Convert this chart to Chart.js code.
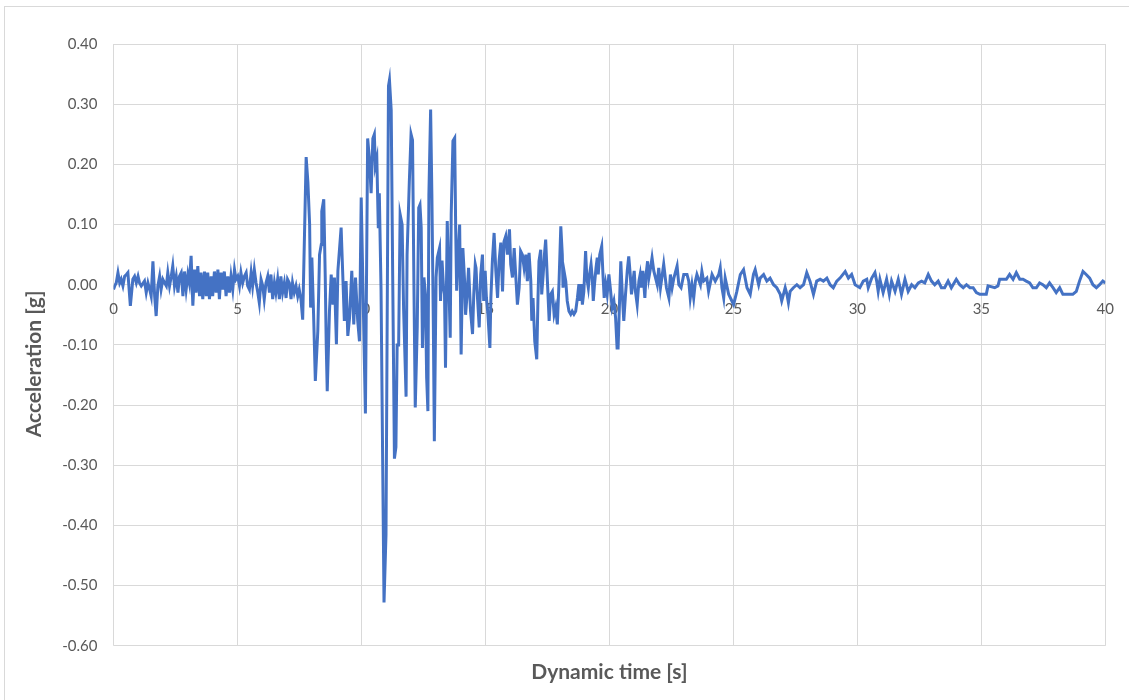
<!DOCTYPE html>
<html>
<head>
<meta charset="utf-8">
<script src="https://cdn.jsdelivr.net/npm/chart.js@4"></script>
<style>
  html, body { margin: 0; padding: 0; background: #ffffff; }
  #wrap { width: 1129px; height: 700px; position: relative; }
</style>
</head>
<body>
<div id="wrap"><canvas id="c" width="1129" height="700"></canvas></div>
<script>
// ---- Data ----
const xAxisTitle = "Dynamic time [s]";
const yAxisTitle = "Acceleration [g]";
const xTickValues = [0, 5, 10, 15, 20, 25, 30, 35, 40];
const yTickValues = [-0.6, -0.5, -0.4, -0.3, -0.2, -0.1, 0, 0.1, 0.2, 0.3, 0.4];

const timeSec = [
  0, 0.05, 0.11, 0.18, 0.25, 0.31, 0.38, 0.45, 0.52, 0.58, 0.68, 0.78, 0.85, 0.92, 0.99, 1.05, 1.12, 1.25, 1.32, 1.39,
  1.46, 1.52, 1.59, 1.66, 1.72, 1.79, 1.86, 1.92, 1.99, 2.06, 2.13, 2.19, 2.26, 2.33, 2.39, 2.46, 2.53, 2.60, 2.66, 2.73,
  2.80, 2.86, 2.93, 3.00, 3.06, 3.13, 3.20, 3.27, 3.33, 3.40, 3.47, 3.53, 3.60, 3.67, 3.74, 3.80, 3.87, 3.94, 4.00, 4.07,
  4.14, 4.21, 4.27, 4.34, 4.41, 4.47, 4.54, 4.61, 4.68, 4.74, 4.81, 4.88, 4.94, 5.01, 5.08, 5.14, 5.21, 5.28, 5.35, 5.41,
  5.48, 5.55, 5.61, 5.68, 5.75, 5.82, 5.88, 5.95, 6.02, 6.08, 6.15, 6.22, 6.29, 6.35, 6.42, 6.49, 6.55, 6.62, 6.69, 6.75,
  6.82, 6.89, 6.96, 7.02, 7.09, 7.16, 7.22, 7.29, 7.36, 7.43, 7.49, 7.56, 7.63,
  7.77, 7.84, 7.91, 7.95, 8.00, 8.07, 8.14, 8.24, 8.31, 8.38, 8.40, 8.48, 8.54, 8.58, 8.62, 8.71, 8.78, 8.85, 8.91, 8.99,
  9.05, 9.18, 9.25, 9.31, 9.38, 9.45, 9.52, 9.61, 9.69, 9.76, 9.85, 9.92, 9.99,
  10.16, 10.25, 10.32, 10.39, 10.46, 10.52, 10.56, 10.62, 10.68, 10.72, 10.79, 10.91, 10.99, 11.09, 11.13, 11.20, 11.26,
  11.33, 11.39, 11.44, 11.50, 11.56, 11.64, 11.70, 11.80, 11.84, 11.93, 12.00, 12.06,
  12.12, 12.17, 12.25, 12.31, 12.36, 12.41, 12.46, 12.52, 12.58, 12.63, 12.68, 12.72, 12.79, 12.84, 12.90, 12.94, 13.01,
  13.06, 13.15, 13.19, 13.25, 13.31, 13.35, 13.39, 13.46, 13.53, 13.58, 13.62, 13.69, 13.76, 13.80, 13.84, 13.89, 13.96,
  14.02, 14.09, 14.16, 14.20, 14.26, 14.32, 14.40, 14.48, 14.53, 14.59,
  14.62, 14.68, 14.75, 14.81, 14.88, 14.93, 14.99, 15.04, 15.10, 15.18, 15.22, 15.28, 15.35, 15.42, 15.49, 15.55, 15.62,
  15.69, 15.75, 15.82, 15.89, 15.97, 16.02, 16.09, 16.16, 16.22, 16.29, 16.36, 16.42, 16.49, 16.56, 16.63, 16.69, 16.76,
  16.83, 16.87, 16.92, 16.99, 17.07, 17.12, 17.16, 17.23, 17.27, 17.33, 17.38, 17.43, 17.50, 17.57, 17.63, 17.70, 17.77,
  17.83, 17.90, 17.97, 18.04, 18.10,
  18.13, 18.17, 18.24, 18.30, 18.37, 18.44, 18.50, 18.57, 18.64, 18.71, 18.77, 18.81, 18.87, 18.91, 18.97, 19.04, 19.09,
  19.15, 19.20, 19.26, 19.31, 19.35, 19.40, 19.46, 19.51, 19.55, 19.61, 19.69, 19.74, 19.79, 19.85, 19.91, 19.98, 20.05,
  20.11, 20.18, 20.25, 20.31, 20.35, 20.41, 20.46, 20.52, 20.58, 20.65, 20.72, 20.78, 20.84, 20.89, 20.94, 21.00, 21.05,
  21.12, 21.19, 21.24, 21.29, 21.35, 21.43, 21.48, 21.54, 21.59, 21.66, 21.72, 21.79,
  21.93, 21.99, 22.06, 22.19, 22.30, 22.40, 22.46, 22.53, 22.60, 22.73, 22.80, 22.89, 23.00, 23.13, 23.20, 23.26, 23.33,
  23.40, 23.47, 23.53, 23.67, 23.73, 23.80, 23.93, 24.00, 24.14, 24.27, 24.41, 24.47, 24.54, 24.61, 24.67, 24.81, 24.94,
  25.01, 25.14, 25.28, 25.41, 25.55, 25.68, 25.81, 25.88, 26.02, 26.08, 26.22, 26.35, 26.48, 26.62, 26.75, 26.89, 26.95,
  27.09, 27.16, 27.22, 27.29, 27.42, 27.56, 27.69, 27.83, 27.96, 28.09, 28.23, 28.36, 28.50, 28.63, 28.77, 28.90, 29.03,
  29.17, 29.30, 29.51, 29.64, 29.77, 29.91,
  30.10, 30.24, 30.38, 30.44, 30.58, 30.71, 30.78, 30.84, 30.91, 31.04, 31.18, 31.29, 31.38, 31.52, 31.65, 31.78, 31.92,
  32.05, 32.19, 32.32, 32.46, 32.59, 32.72, 32.86, 32.99, 33.12, 33.26, 33.39, 33.52, 33.66, 33.79, 33.99, 34.13, 34.27,
  34.40, 34.54, 34.67, 34.80, 34.94, 35.20, 35.27, 35.54, 35.67, 35.74, 36.01, 36.14, 36.28, 36.41, 36.55, 36.68, 36.81,
  36.95, 37.08, 37.22, 37.35, 37.48, 37.62, 37.75, 37.89, 38.02, 38.16, 38.29, 38.69, 38.83, 38.96, 39.10, 39.23, 39.37,
  39.50, 39.64, 39.77, 39.90, 40.00
];

const accelG = [
  -0.008, -0.002, 0.003, 0.020, 0.003, 0.009, -0.002, 0.014, 0.017, 0.020, -0.035, 0.009, 0.014, 0.003, 0.014, 0.003, -0.002, 0.006, -0.013, 0.003,
  -0.008, -0.019, 0.039, -0.019, -0.052, -0.002, 0.014, -0.008, 0.009, 0.003, -0.002, 0.020, -0.002, 0.014, 0.031, -0.002, 0.014, -0.013, 0.014, 0.020,
  -0.019, 0.022, -0.008, 0.017, 0.003, 0.048, -0.035, 0.025, -0.013, 0.031, -0.019, 0.020, -0.024, 0.022, -0.019, 0.020, -0.024, 0.014, -0.019, 0.022,
  -0.013, 0.025, -0.024, 0.020, -0.008, 0.022, -0.019, 0.014, -0.013, 0.014, -0.008, 0.025, 0.009, 0.014, -0.002, 0.020, 0.003, 0.014, 0.020, -0.002,
  -0.008, 0.020, -0.002, 0.025, 0.003, -0.013, -0.030, 0.009, -0.002, -0.024, 0.003, 0.014, -0.013, 0.017, -0.024, 0.003, -0.013, 0.009, -0.024, 0.014,
  -0.013, 0.003, -0.022, 0.009, 0.003, -0.024, 0.003, -0.013, -0.002, -0.019, -0.008, -0.024, -0.058,
  0.212, 0.170, 0.100, -0.038, 0.045, -0.050, -0.160, -0.077, 0.050, 0.067, 0.122, 0.142, 0.012, -0.100, -0.177, -0.044, 0.017, -0.033, 0.012, -0.099,
  0.023, 0.095, 0.012, -0.060, 0.006, -0.085, -0.055, 0.023, -0.066, 0.012, -0.060, -0.094, 0.145,
  -0.214, 0.243, 0.210, 0.152, 0.243, 0.250, 0.198, 0.210, 0.094, 0.152, -0.008, -0.528, -0.415, 0.330, 0.340, 0.290, 0.015,
  -0.289, -0.270, -0.100, -0.100, 0.117, 0.100, -0.040, -0.186, 0.050, 0.170, 0.250, 0.240,
  -0.016, -0.204, -0.070, 0.128, 0.133, 0.095, -0.105, 0.012, -0.016, -0.155, -0.210, 0.150, 0.291, 0.150, -0.070, -0.260, 0.012,
  0.045, 0.061, -0.027, 0.040, -0.005, -0.016, -0.138, 0.106, -0.005, -0.088, 0.117, 0.239, 0.244, 0.095, -0.010, 0.040, 0.100,
  -0.116, 0.061, 0.006, -0.050, -0.016, 0.028, -0.044, -0.082, -0.016, 0.034,
  0.028, -0.022, -0.071, 0.017, 0.050, -0.027, 0.023, -0.022, -0.049, -0.105, -0.022, 0.039, 0.086, 0.023, -0.022, 0.039, 0.070,
  -0.011, 0.072, 0.081, 0.050, 0.092, 0.034, 0.012, 0.061, 0.017, -0.033, -0.005, 0.056, 0.050, 0.028, 0.050, 0.006, 0.053,
  0.006, -0.060, -0.022, -0.094, -0.124, -0.022, 0.039, 0.058, -0.016, 0.017, 0.050, 0.075, 0.006, -0.060, -0.016, -0.011, -0.049,
  -0.038, -0.066, 0.006, 0.097, 0.050,
  -0.005, 0.023, 0.006, -0.027, -0.044, -0.049, -0.044, -0.049, -0.044, -0.022, 0.001, -0.027, 0.001, -0.033, -0.011, 0.056, 0.011,
  -0.005, 0.017, 0.034, 0.011, -0.027, 0.001, 0.028, 0.045, 0.017, 0.050, 0.064, 0.017, -0.022, 0.001, -0.016, 0.017, -0.011,
  -0.038, -0.027, -0.055, -0.105, -0.105, -0.027, 0.039, -0.016, -0.060, -0.016, 0.023, 0.047, 0.017, -0.016, 0.001, 0.023, -0.011,
  -0.033, 0.006, 0.017, -0.005, 0.023, -0.022, 0.017, 0.039, 0.011, 0.028, 0.045, 0.023,
  0.000, 0.028, -0.005, 0.034, -0.005, -0.022, 0.017, -0.005, 0.011, 0.031, 0.000, -0.005, 0.017, 0.017, 0.006, -0.022, 0.000,
  -0.022, 0.006, 0.017, 0.000, 0.022, 0.006, 0.011, -0.011, 0.017, 0.006, 0.017, 0.028, -0.005, -0.022, 0.011, -0.016, -0.027,
  -0.033, -0.011, 0.017, 0.025, -0.005, -0.016, 0.017, 0.025, 0.000, 0.011, 0.017, 0.006, 0.011, 0.000, -0.005, -0.016, -0.027,
  -0.005, -0.016, -0.030, -0.011, -0.005, 0.000, -0.005, 0.000, 0.020, 0.006, -0.016, 0.006, 0.009, 0.006, 0.011, 0.000, -0.005,
  0.006, 0.011, 0.022, 0.011, 0.017, 0.000,
  -0.005, 0.006, 0.009, -0.005, 0.011, 0.020, 0.006, -0.011, 0.009, -0.013, 0.009, -0.016, 0.006, -0.011, 0.009, -0.016, 0.009,
  -0.011, 0.000, -0.005, 0.003, 0.006, 0.003, 0.017, 0.006, 0.000, 0.006, -0.005, -0.005, 0.006, -0.005, 0.009, 0.000, -0.005,
  0.000, -0.005, -0.005, -0.013, -0.016, -0.016, -0.002, -0.005, -0.002, 0.009, 0.009, 0.017, 0.009, 0.020, 0.009, 0.009, 0.006,
  0.003, -0.005, -0.005, 0.003, 0.000, -0.005, 0.003, -0.005, -0.013, -0.005, -0.016, -0.016, -0.011, 0.006, 0.022, 0.017, 0.011,
  0.000, -0.005, 0.000, 0.006, 0.003
];

// ---- Styling ----
const FONT = "Lato, 'Open Sans', 'Liberation Sans', sans-serif";
const TEXT = '#595959';
const GRID = '#d9d9d9';

const points = timeSec.map((t, i) => ({ x: t, y: accelG[i] }));

const frame = {
  id: 'frame',
  beforeDraw(chart) {
    const ctx = chart.ctx;
    ctx.save();
    ctx.fillStyle = '#ffffff';
    ctx.fillRect(0, 0, chart.width, chart.height);
    ctx.strokeStyle = GRID;
    ctx.lineWidth = 1;
    ctx.strokeRect(4.5, 6.5, chart.width + 20, chart.height + 20);
    ctx.restore();
  },
  afterDraw(chart) {
    // vertical axis title, placed as in the reference (slightly below plot centre)
    const ctx = chart.ctx;
    const yMid = (chart.chartArea.top + chart.chartArea.bottom) / 2 + 19;
    ctx.save();
    ctx.translate(34, yMid);
    ctx.rotate(-Math.PI / 2);
    ctx.fillStyle = TEXT;
    ctx.font = "bold 21px " + FONT;
    ctx.textAlign = 'center';
    ctx.textBaseline = 'middle';
    ctx.fillText(yAxisTitle, 0, 0);
    ctx.restore();
  }
};

new Chart(document.getElementById('c'), {
  type: 'line',
  data: {
    datasets: [{
      data: points,
      borderColor: '#4472C4',
      borderWidth: 3,
      pointRadius: 0,
      tension: 0,
      fill: false
    }]
  },
  options: {
    responsive: false,
    animation: false,
    layout: { padding: { left: 20, right: 23, top: 44, bottom: 0 } },
    plugins: {
      legend: { display: false },
      tooltip: { enabled: false },
      title: {
        display: true,
        position: 'bottom',
        fullSize: false,
        text: xAxisTitle,
        color: TEXT,
        font: { family: FONT, size: 21, weight: 'bold', lineHeight: 1.2 },
        padding: { top: 14, bottom: 15 }
      }
    },
    scales: {
      x: {
        type: 'linear',
        position: { y: 0 },
        min: 0, max: 40,
        afterBuildTicks(scale) { scale.ticks = xTickValues.map(v => ({ value: v })); },
        ticks: { color: TEXT, font: { family: FONT, size: 15 }, padding: 15, maxRotation: 0,
                 callback: v => String(v) },
        grid: { color: GRID, lineWidth: 1, drawTicks: false },
        border: { display: false }
      },
      y: {
        min: -0.6, max: 0.4,
        afterBuildTicks(scale) { scale.ticks = yTickValues.map(v => ({ value: v })); },
        afterFit(scale) { scale.width = 113.5 - 20; },
        ticks: { color: TEXT, font: { family: FONT, size: 15 }, padding: 16,
                 callback: v => Number(v).toFixed(2) },
        grid: { color: GRID, lineWidth: 1, drawTicks: false },
        border: { display: false },
        title: { display: false, text: yAxisTitle }
      }
    }
  },
  plugins: [frame]
});
</script>
</body>
</html>
